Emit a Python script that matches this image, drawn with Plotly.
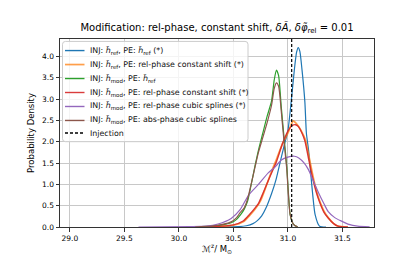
import plotly.graph_objects as go

# ---- data ----
blue_x = [30.40, 30.55, 30.62, 30.68, 30.72, 30.76, 30.80, 30.85, 30.89, 30.93, 30.97, 31.00, 31.03, 31.06, 31.08, 31.095, 31.11, 31.13, 31.156, 31.17, 31.19, 31.22, 31.25, 31.29, 31.35]
blue_y = [0.0, 0.01, 0.03, 0.08, 0.15, 0.26, 0.45, 0.78, 1.10, 1.53, 1.95, 2.25, 2.93, 3.70, 4.10, 4.21, 4.12, 3.68, 2.93, 2.20, 1.80, 0.97, 0.29, 0.02, 0.0]

orange_x = [30.20, 30.40, 30.50, 30.59, 30.65, 30.70, 30.75, 30.80, 30.85, 30.90, 30.95, 31.00, 31.03, 31.05, 31.07, 31.10, 31.13, 31.16, 31.19, 31.23, 31.26, 31.29, 31.33, 31.37, 31.42, 31.46, 31.55]
orange_y = [0.0, 0.02, 0.04, 0.12, 0.27, 0.42, 0.62, 0.95, 1.30, 1.62, 1.95, 2.20, 2.40, 2.49, 2.45, 2.35, 2.22, 2.05, 1.70, 1.20, 0.87, 0.62, 0.38, 0.22, 0.08, 0.02, 0.0]

green_x = [30.15, 30.30, 30.40, 30.48, 30.53, 30.57, 30.60, 30.63, 30.66, 30.70, 30.73, 30.77, 30.81, 30.85, 30.875, 30.895, 30.915, 30.94, 30.965, 30.99, 31.005, 31.02, 31.04, 31.06, 31.09]
green_y = [0.0, 0.02, 0.05, 0.10, 0.18, 0.30, 0.42, 0.60, 0.95, 1.45, 1.80, 2.20, 2.60, 2.95, 3.45, 3.68, 3.55, 2.80, 2.10, 1.42, 0.80, 0.30, 0.12, 0.04, 0.0]

red_x = [30.20, 30.40, 30.50, 30.59, 30.65, 30.70, 30.73, 30.77, 30.83, 30.895, 30.95, 31.00, 31.04, 31.07, 31.095, 31.13, 31.156, 31.19, 31.23, 31.26, 31.29, 31.33, 31.37, 31.42, 31.46, 31.55]
red_y = [0.0, 0.02, 0.05, 0.14, 0.30, 0.45, 0.55, 0.78, 1.15, 1.53, 1.95, 2.25, 2.38, 2.40, 2.36, 2.20, 2.02, 1.60, 1.12, 0.82, 0.59, 0.35, 0.21, 0.08, 0.02, 0.0]

purple_x = [29.63, 30.10, 30.25, 30.36, 30.48, 30.56, 30.64, 30.73, 30.82, 30.88, 30.94, 31.00, 31.06, 31.10, 31.15, 31.19, 31.23, 31.28, 31.33, 31.37, 31.43, 31.49, 31.56, 31.64, 31.75]
purple_y = [0.0, 0.01, 0.02, 0.07, 0.20, 0.40, 0.75, 1.00, 1.27, 1.40, 1.57, 1.64, 1.66, 1.62, 1.50, 1.34, 1.10, 0.81, 0.55, 0.36, 0.22, 0.14, 0.06, 0.02, 0.005]

brown_x = [30.15, 30.30, 30.40, 30.48, 30.53, 30.56, 30.60, 30.63, 30.66, 30.70, 30.73, 30.77, 30.81, 30.85, 30.875, 30.895, 30.915, 30.94, 30.965, 30.99, 31.005, 31.02, 31.04, 31.06, 31.09]
brown_y = [0.0, 0.02, 0.06, 0.12, 0.22, 0.33, 0.45, 0.65, 0.97, 1.42, 1.75, 2.10, 2.45, 2.85, 3.25, 3.38, 3.30, 2.70, 2.00, 1.35, 0.75, 0.30, 0.12, 0.04, 0.0]

injection = 31.035
y_limits = [0.0, 4.41]
x_limits = [28.91, 31.79]
x_ticks = [29.0, 29.5, 30.0, 30.5, 31.0, 31.5]
y_ticks = [0.0, 0.5, 1.0, 1.5, 2.0, 2.5, 3.0, 3.5, 4.0]

labels = [
    "INJ: <i>h̃</i><sub>ref</sub>, PE: <i>h̃</i><sub>ref</sub> (*)",
    "INJ: <i>h̃</i><sub>ref</sub>, PE: rel-phase constant shift (*)",
    "INJ: <i>h̃</i><sub>mod</sub>, PE: <i>h̃</i><sub>ref</sub>",
    "INJ: <i>h̃</i><sub>mod</sub>, PE: rel-phase constant shift (*)",
    "INJ: <i>h̃</i><sub>mod</sub>, PE: rel-phase cubic splines (*)",
    "INJ: <i>h̃</i><sub>mod</sub>, PE: abs-phase cubic splines",
    "Injection",
]

# (x, y, colour, width, opacity)
series = [
    (blue_x, blue_y, "#1f77b4", 1.2, 1.0),
    (orange_x, orange_y, "#ff7f0e", 1.7, 0.75),
    (green_x, green_y, "#2ca02c", 1.2, 1.0),
    (red_x, red_y, "#d62728", 1.4, 0.9),
    (purple_x, purple_y, "#9467bd", 1.2, 1.0),
    (brown_x, brown_y, "#8c564b", 1.2, 1.0),
]

fig = go.Figure()
for (xs, ys, col, w, op), lab in zip(series, labels):
    fig.add_trace(go.Scatter(x=xs, y=ys, mode="lines", name=lab, opacity=op, showlegend=False,
                             line=dict(color=col, width=w, shape="spline", smoothing=0.6)))

fig.add_trace(go.Scatter(x=[injection, injection], y=y_limits, mode="lines", name=labels[6],
                         showlegend=False, line=dict(color="black", width=1.2, dash="3px,2px")))

# ---- legend drawn in pixel layout (plot area: x 52..366, y 31..226) ----
W, H = 407, 255
L, R, T, B = 52, 41, 31, 29
pw, ph = W - L - R, H - T - B


def px(xp):
    return (xp - L) / pw


def py(yp):
    return (H - B - yp) / ph


shapes = []
annotations = []
bx0, bx1, by0, by1, r = 54.5, 240, 33.5, 137.5, 3
path = (f"M {px(bx0 + r)},{py(by0)} L {px(bx1 - r)},{py(by0)} Q {px(bx1)},{py(by0)} {px(bx1)},{py(by0 + r)} "
        f"L {px(bx1)},{py(by1 - r)} Q {px(bx1)},{py(by1)} {px(bx1 - r)},{py(by1)} "
        f"L {px(bx0 + r)},{py(by1)} Q {px(bx0)},{py(by1)} {px(bx0)},{py(by1 - r)} "
        f"L {px(bx0)},{py(by0 + r)} Q {px(bx0)},{py(by0)} {px(bx0 + r)},{py(by0)} Z")
shapes.append(dict(type="path", xref="paper", yref="paper", path=path,
                   fillcolor="rgba(255,255,255,0.8)", line=dict(color="#cccccc", width=1), layer="above"))

rows = [43, 57.5, 72, 86.5, 101, 115.5, 128.5]
legend_styles = [(s[2], max(s[3], 1.4), s[4], "solid") for s in series] + [("black", 1.4, 1.0, "3px,2px")]
for yrow, lab, (col, w, op, dash) in zip(rows, labels, legend_styles):
    shapes.append(dict(type="line", xref="paper", yref="paper", x0=px(57), x1=px(76.5), y0=py(yrow), y1=py(yrow),
                       line=dict(color=col, width=w, dash=dash), opacity=op, layer="above"))
    annotations.append(dict(text=lab, xref="paper", yref="paper", x=px(80), y=py(yrow), xanchor="left",
                            yanchor="middle", showarrow=False, font=dict(size=7.9, color="#111111")))

axis_common = dict(showgrid=True, gridcolor="#c8c8c8", gridwidth=0.8, zeroline=False,
                   showline=True, linecolor="#333333", linewidth=1, mirror=True,
                   ticks="outside", ticklen=3.5, tickwidth=0.8, tickcolor="#333333",
                   tickfont=dict(size=7.5, color="black"))

fig.update_layout(
    width=W, height=H,
    margin=dict(l=L, r=R, t=T, b=B),
    paper_bgcolor="white", plot_bgcolor="white",
    font=dict(family="DejaVu Sans", color="black"),
    title=dict(text="Modification: rel-phase, constant shift, <i>δÃ</i>, <i>δφ̃</i><sub>rel</sub> = 0.01",
               x=0.5, xref="paper", xanchor="center", y=1 - 19 / 255, yanchor="middle",
               font=dict(size=10)),
    xaxis=dict(range=x_limits, tickvals=x_ticks, ticktext=[f"{v:.1f}" for v in x_ticks],
               title=dict(text="ℳ<sup>z</sup>/ M<sub>⊙</sub>", font=dict(size=8.5), standoff=3),
               **axis_common),
    yaxis=dict(range=y_limits, tickvals=y_ticks, ticktext=[f"{v:.1f}" for v in y_ticks],
               title=dict(text="Probability Density", font=dict(size=8.5), standoff=6),
               **axis_common),
    shapes=shapes,
    annotations=annotations,
    showlegend=False,
)

fig.write_html("out.html")
